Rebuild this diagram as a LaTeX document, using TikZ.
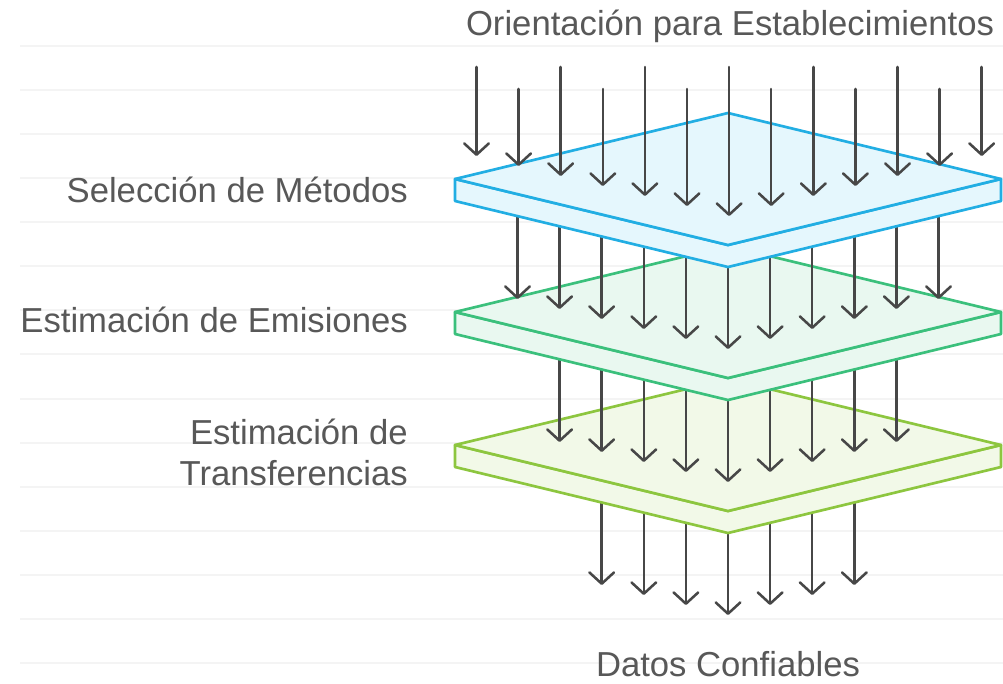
\documentclass[tikz,border=0pt]{standalone}
\usepackage{fontspec}
\setmainfont{Liberation Sans}
\usetikzlibrary{arrows.meta}

\definecolor{flowgray}{HTML}{474747}
\definecolor{textgray}{HTML}{585858}
\definecolor{rulegray}{HTML}{F4F4F4}
\definecolor{blueline}{HTML}{22AEE3}
\definecolor{bluefill}{HTML}{E5F7FD}
\definecolor{greenline}{HTML}{3BC07C}
\definecolor{greenfill}{HTML}{E9F8F0}
\definecolor{limeline}{HTML}{8DC63F}
\definecolor{limefill}{HTML}{F2F9E8}

% one flat slab, #1 = height of its side corners
\newcommand{\slab}[3]{%
  \filldraw[slabline, draw=#2, fill=#3] (455,#1) -- (455,#1+22) -- (728,#1+88)
    -- (1001,#1+22) -- (1001,#1) -- (728,#1+66) -- cycle;
  \filldraw[slabline, draw=#2, fill=#3] (455,#1) -- (728,#1-66) -- (1001,#1)
    -- (728,#1+66) -- cycle;
}

\begin{document}
\begin{tikzpicture}[x=0.75pt, y=-0.75pt]
  \tikzset{
    flow/.style={draw=flowgray, line width=1.9pt, line cap=round,
      -{Straight Barb[length=8.5pt, width=18.5pt, round]}},
    slabline/.style={line width=2pt, line join=round},
    layertext/.style={font=\fontsize{26}{30.75}\selectfont, text=textgray, inner sep=0pt}
  }

  \fill[white] (0,0) rectangle (1003,683);
  \useasboundingbox (0,0) rectangle (1003,683);

  \foreach \i in {0,...,14}
    \draw[rulegray, line width=1.5pt] (20,{45.5+44.13*\i}) -- (1003,{45.5+44.13*\i});

  % out of the last slab
  \foreach \k in {-3,...,3}
    \draw[flow] ({728+42.1*\k},445) -- ({728+42.1*\k},{615-10*abs(\k)});
  \slab{445}{limeline}{limefill}

  \foreach \k in {-4,...,4}
    \draw[flow] ({728+42.1*\k},312) -- ({728+42.1*\k},{482-10*abs(\k)});
  \slab{312}{greenline}{greenfill}

  \foreach \k in {-5,...,5}
    \draw[flow] ({728+42.1*\k},179) -- ({728+42.1*\k},{349-10*abs(\k)});
  \slab{179}{blueline}{bluefill}

  % incoming rain
  \foreach \c in {0,...,12}{
    \pgfmathsetmacro{\xx}{476.5+42.1*\c}
    \pgfmathsetmacro{\ys}{isodd(\c) ? 89 : 67}
    \pgfmathsetmacro{\yt}{216-10*abs(\c-6)}
    \draw[flow] (\xx,\ys) -- (\xx,\yt);
  }

  \node[layertext, anchor=base] (title) at (730,35) {Orientación para Establecimientos};
  \node[layertext, anchor=base east] (sel) at (408,202) {Selección de Métodos};
  \node[layertext, anchor=base east] (emi) at (408,332) {Estimación de Emisiones};
  \node[layertext, anchor=south east, align=right] (tra) at (408,486) {Estimación de\\Transferencias};
  \node[layertext, anchor=base] (datos) at (728,676) {Datos Confiables};
\end{tikzpicture}
\end{document}
